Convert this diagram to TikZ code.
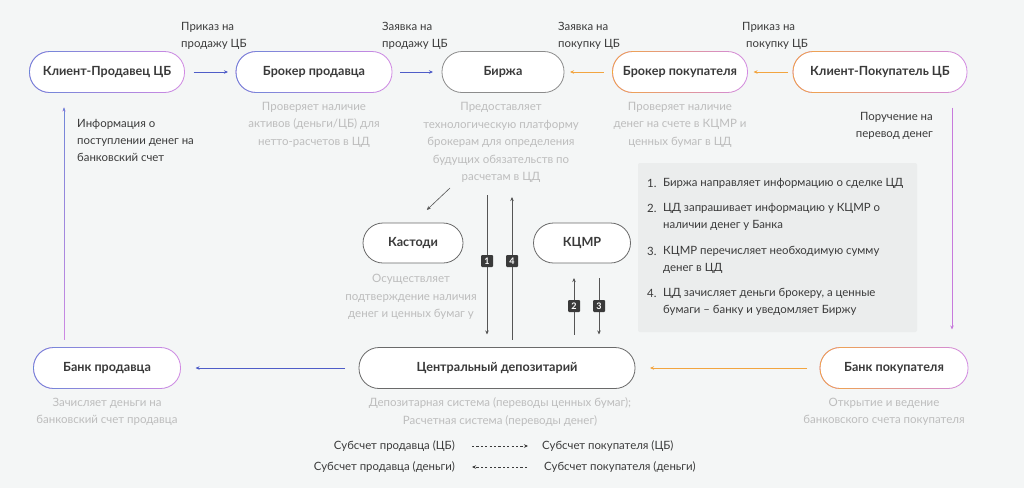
\documentclass[tikz,border=0pt]{standalone}
\usepackage{fontspec}
\setmainfont{Lato}
\usetikzlibrary{arrows.meta,fadings}

\definecolor{bgc}{HTML}{F4F6F6}
\definecolor{boxc}{HTML}{EBEDED}
\definecolor{txtc}{HTML}{3A3A3A}
\definecolor{descc}{HTML}{BDBDBD}
\definecolor{bluec}{HTML}{4F5DC8}
\definecolor{edgeblue}{HTML}{6A86D8}
\definecolor{orangec}{HTML}{F2A540}
\definecolor{pinkc}{HTML}{D28AE4}
\definecolor{purplec}{HTML}{C77ADC}
\definecolor{grayc}{HTML}{8C8C8C}
\definecolor{darkc}{HTML}{6A6A6A}
\definecolor{linec}{HTML}{555555}

\tikzfading[name=fadeleft, left color=transparent!0, right color=transparent!100]
\tikzfading[name=fadetop, top color=transparent!0, bottom color=transparent!100]

\tikzset{
  pill/.style={rectangle, rounded corners=20pt, minimum height=41pt, outer sep=0pt,
    fill=white, draw=#1, line width=0.8pt, inner sep=0pt, text=txtc,
    font=\bfseries\fontsize{12.6}{14}\selectfont},
  fadeedge/.style={draw=#1, line width=0.8pt, rounded corners=20pt, path fading=fadeleft},
  desc/.style={align=center, text=descc, inner sep=0pt, font=\fontsize{11.5}{17.5}\selectfont},
  note/.style={align=left, text=txtc, inner sep=0pt, font=\fontsize{11.4}{17}\selectfont},
  flow/.style={-{Stealth[length=4pt,width=3.5pt]}, line width=0.7pt},
  badge/.style={fill=txtc, text=white, rounded corners=1pt, inner sep=0pt, minimum size=12pt,
    font=\bfseries\fontsize{9}{9}\selectfont},
}

\begin{document}
\begin{tikzpicture}[x=1pt, y=-1pt]
    \useasboundingbox (0,0) rectangle (1024,488);
    \fill[bgc] (0,0) rectangle (1024,488);

    % top row
    \node[pill=pinkc, minimum width=155pt] (cs) at (107,72) {Клиент-Продавец ЦБ};
    \node[pill=pinkc, minimum width=156pt] (bs) at (314,72) {Брокер продавца};
    \node[pill=grayc, minimum width=122pt] (ex) at (503,72) {Биржа};
    \node[pill=pinkc, minimum width=135pt] (bb) at (680,72) {Брокер покупателя};
    \node[pill=pinkc, minimum width=174pt] (cb) at (880,72) {Клиент-Покупатель ЦБ};
    \draw[fadeedge=edgeblue] (cs.north west) rectangle (cs.south east);
    \draw[fadeedge=edgeblue] (bs.north west) rectangle (bs.south east);
    \draw[fadeedge=orangec] (bb.north west) rectangle (bb.south east);
    \draw[fadeedge=orangec] (cb.north west) rectangle (cb.south east);

    % middle
    \node[pill=darkc, minimum width=100pt, minimum height=40pt] (ks) at (413,243) {Кастоди};
    \node[pill=darkc, minimum width=97pt, minimum height=40pt] (km) at (582,243) {КЦМР};

    % bottom row
    \node[pill=pinkc, minimum width=147pt] (ps) at (107,368) {Банк продавца};
    \node[pill=darkc, minimum width=276pt] (cd) at (497,368) {Центральный депозитарий};
    \node[pill=pinkc, minimum width=148pt] (pb) at (894,368) {Банк покупателя};
    \draw[fadeedge=edgeblue] (ps.north west) rectangle (ps.south east);
    \draw[fadeedge=orangec] (pb.north west) rectangle (pb.south east);

    % arrow labels
    \node[note, anchor=west] at (181,36) {Приказ на\\продажу ЦБ};
    \node[note, anchor=west] at (382,36) {Заявка на\\продажу ЦБ};
    \node[note, anchor=west] at (558,36) {Заявка на\\покупку ЦБ};
    \node[note, anchor=west] at (742,36) {Приказ на\\\hspace{4pt}покупку ЦБ};
    \node[note, anchor=west] at (77,140) {Информация о\\поступлении денег на\\банковский счет};
    \node[note, anchor=east, align=right] at (933,125.5) {Поручение на\\перевод денег};

    % descriptions
    \node[desc] at (314,124.5) {Проверяет наличие\\активов (деньги/ЦБ) для\\нетто-расчетов в ЦД};
    \node[desc] at (501,142.5) {Предоставляет\\технологическую платформу\\брокерам для определения\\будущих обязательств по\\расчетам в ЦД};
    \node[desc] at (680,124.5) {Проверяет наличие\\денег на счете в КЦМР и\\ценных бумаг в ЦД};
    \node[desc] at (411,297) {Осуществляет\\подтверждение наличия\\денег и ценных бумаг у};
    \node[desc] at (107,412) {Зачисляет деньги на\\банковский счет продавца};
    \node[desc] at (500,412) {Депозитарная система (переводы ценных бумаг);\\Расчетная система (переводы денег)};
    \node[desc] at (884,412) {Открытие и ведение\\банковского счета покупателя};

    % horizontal flows
    \path[flow]
    (cs) edge [bluec, shorten <=9pt, shorten >=8pt] (bs)
    (bs) edge [bluec, shorten <=8pt, shorten >=9pt] (ex)
    (bb) edge [orangec, shorten <=9pt, shorten >=6pt] (ex)
    (cb) edge [orangec, shorten <=5pt, shorten >=6pt] (bb)
    (cd) edge [bluec, shorten <=14pt, shorten >=15pt] (ps)
    (pb) edge [orangec, shorten <=13pt, shorten >=15pt] (cd);

    % vertical flows
    \coordinate (lx) at (64,0);
    \coordinate (rx) at (952,0);
    \draw[flow, pinkc, shorten <=8pt, shorten >=15pt] (ps.north -| lx) -- (cs.south -| lx);
    \draw[flow, edgeblue, shorten <=8pt, shorten >=15pt, path fading=fadetop] (ps.north -| lx) -- (cs.south -| lx);
    \draw[flow, purplec, shorten <=15pt, shorten >=18pt] (cb.south -| rx) -- (pb.north -| rx);

    \coordinate (kt) at (450,188);
    \coordinate (t1) at (487,195);
    \coordinate (t4) at (512,197);
    \coordinate (t2) at (574,0);
    \coordinate (t3) at (599,0);
    \draw[flow, linec, line width=0.6pt, shorten >=19pt] (kt) -- (ks.north);
    \draw[flow, linec, shorten >=13pt] (t1) -- (cd.north -| t1);
    \draw[flow, linec, shorten <=8pt] (cd.north -| t4) -- (t4);
    \draw[flow, linec, shorten <=13pt, shorten >=15pt] (cd.north -| t2) -- (km.south -| t2);
    \draw[flow, linec, shorten <=15pt, shorten >=13pt] (km.south -| t3) -- (cd.north -| t3);
    \node[badge] (b1) at (487,261) {1};
    \node[badge] (b4) at (512,261) {4};
    \node[badge] (b2) at (574,306) {2};
    \node[badge] (b3) at (599,306) {3};

    % steps box
    \fill[boxc, rounded corners=2pt] (638,163) rectangle (917,332);
    \node[note, anchor=west] (n1) at (647,183) {1.};
    \node[note, anchor=west] at (663,183) {Биржа направляет информацию о сделке ЦД};
    \node[note, anchor=west] (n2) at (647,208) {2.};
    \node[note, anchor=west] at (663,216.5) {ЦД запрашивает информацию у КЦМР о\\наличии денег у Банка};
    \node[note, anchor=west] (n3) at (647,251) {3.};
    \node[note, anchor=west] at (663,259.5) {КЦМР перечисляет необходимую сумму\\денег в ЦД};
    \node[note, anchor=west] (n4) at (647,293) {4.};
    \node[note, anchor=west] at (663,302) {ЦД зачисляет деньги брокеру, а ценные\\бумаги -- банку и уведомляет Биржу};

    % legend
    \node[note, anchor=east] (ls1) at (455,446) {Субсчет продавца (ЦБ)};
    \node[note, anchor=west] (lb1) at (542,446) {Субсчет покупателя (ЦБ)};
    \node[note, anchor=east] (ls2) at (455,467) {Субсчет продавца (деньги)};
    \node[note, anchor=west] (lb2) at (544,467) {Субсчет покупателя (деньги)};
    \draw[flow, txtc, dash pattern=on 2.2pt off 2.2pt, shorten <=17pt, shorten >=14pt] (ls1.east) -- (lb1.west);
    \draw[flow, txtc, dash pattern=on 2.2pt off 2.2pt, shorten <=17pt, shorten >=17pt] (lb2.west) -- (ls2.east);
\end{tikzpicture}
\end{document}
